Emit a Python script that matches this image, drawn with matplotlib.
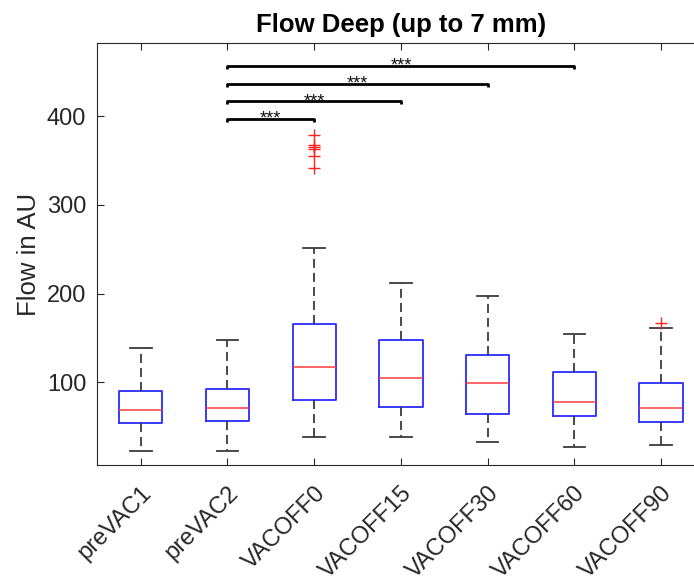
import numpy as np
import matplotlib
matplotlib.use('Agg')
import matplotlib.pyplot as plt
import matplotlib.transforms as mtransforms

plt.rcParams['font.family'] = ['Liberation Sans', 'DejaVu Sans']
plt.rcParams['lines.scale_dashes'] = False

# box statistics
groups = ['preVAC1', 'preVAC2', 'VACOFF0', 'VACOFF15', 'VACOFF30', 'VACOFF60', 'VACOFF90']
whis_lo = [22.5, 22.5, 38.3, 38.0, 33.0, 27.0, 29.3]
q1 = [54.1, 56.3, 80.0, 71.7, 64.2, 62.0, 55.2]
med = [68.4, 71.4, 117.6, 104.8, 98.8, 78.1, 70.6]
q3 = [90.1, 92.8, 166.0, 147.3, 130.7, 111.5, 98.8]
whis_hi = [138.6, 147.3, 250.9, 212.2, 197.2, 154.7, 161.5]
outliers = [[], [], [378.6, 367.7, 365.4, 363.2, 354.6, 341.7], [], [], [], [167.1]]

# significance brackets: (from group, to group, height)
sig_from = [2, 2, 2, 2]
sig_to = [3, 4, 5, 6]
sig_y = [396.6, 416.7, 436.0, 456.3]
sig_txt = ['***', '***', '***', '***']

fig = plt.figure(figsize=(6.94, 5.81), dpi=100)
ax = fig.add_axes([0.1403, 0.1988, 0.8748, 0.7277])

stats = []
for i in range(len(groups)):
  stats.append(dict(label=groups[i], whislo=whis_lo[i], q1=q1[i], med=med[i],
                    q3=q3[i], whishi=whis_hi[i], fliers=outliers[i]))

pos = np.arange(1, len(groups) + 1)
ax.bxp(stats, positions=pos, widths=0.5, capwidths=0.25, showfliers=True,
       boxprops=dict(color='#2a2aff', linewidth=1.3),
       medianprops=dict(color='#ff3a3a', linewidth=1.1),
       whiskerprops=dict(color='#3a3a3a', linewidth=1.3, linestyle=(0, (6.5, 3.6))),
       capprops=dict(color='#3a3a3a', linewidth=1.3),
       flierprops=dict(marker='+', markeredgecolor='#ff2020', markersize=8,
                       markeredgewidth=1.0, linestyle='none'))

for a, b, y, t in zip(sig_from, sig_to, sig_y, sig_txt):
  ax.plot([a, a, b, b], [y - 3, y, y, y - 3], color='k', linewidth=2.0,
          solid_capstyle='butt')
  ax.text((a + b) / 2., y - 5.5, t, ha='center', va='baseline', fontsize=13, color='#111111')

ax.set_xlim(0.5, 7.5)
ax.set_ylim(6.3, 482.6)
ax.set_yticks([100, 200, 300, 400])
ax.set_xticks(pos)
ax.set_xticklabels(groups, rotation=45, ha='right', va='top', rotation_mode='anchor')

dx = mtransforms.ScaledTranslation(20 / 100., 0, fig.dpi_scale_trans)
for lab in ax.get_xticklabels():
  lab.set_transform(lab.get_transform() + dx)

ax.tick_params(axis='both', direction='in', length=5, width=0.8, colors='#262626',
               labelsize=17, top=True, right=True)
ax.tick_params(axis='x', pad=12)
ax.tick_params(axis='y', pad=8)
for s in ax.spines.values():
  s.set_color('#262626')
  s.set_linewidth(0.8)

ax.set_ylabel('Flow in AU', fontsize=18.5, color='#262626', labelpad=4)
ax.set_title('Flow Deep (up to 7 mm)', fontsize=18.5, fontweight='bold', pad=8)

fig.savefig('out.png', dpi=100)
